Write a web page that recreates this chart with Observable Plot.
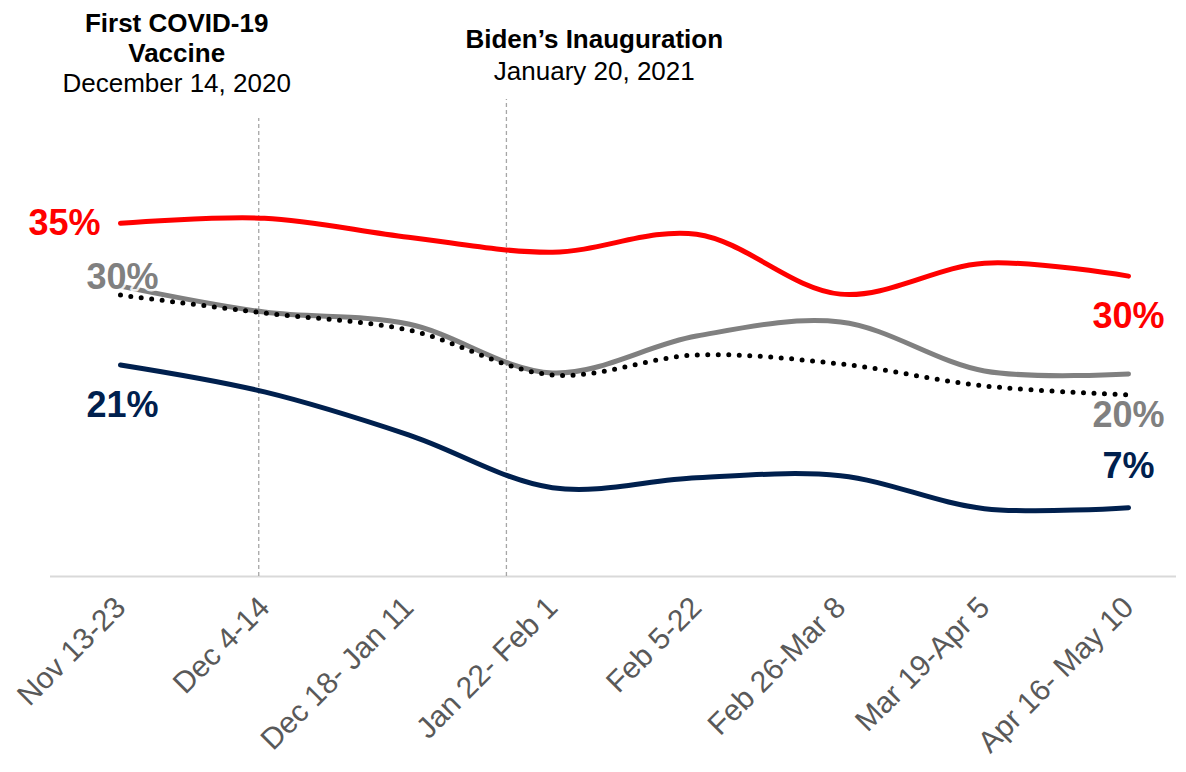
<!DOCTYPE html>
<html>
<head>
<meta charset="utf-8">
<script src="https://cdn.jsdelivr.net/npm/d3@7"></script>
<script src="https://cdn.jsdelivr.net/npm/@observablehq/plot@0.6"></script>
<style>
  html, body { margin: 0; padding: 0; background: #ffffff; }
  #chart { width: 1186px; height: 772px; }
</style>
</head>
<body>
<div id="chart"></div>
<script>
const categories = ["Nov 13-23", "Dec 4-14", "Dec 18- Jan 11", "Jan 22- Feb 1", "Feb 5-22", "Feb 26-Mar 8", "Mar 19-Apr 5", "Apr 16- May 10"];
const redValues    = [35.4, 35.9, 34.0, 32.5, 34.3, 28.3, 31.4, 30.1];
const grayValues   = [29.1, 26.5, 25.3, 20.4, 24.1, 25.5, 20.6, 20.3];
const dottedValues = [28.2, 26.4, 24.7, 20.2, 22.2, 21.3, 19.1, 18.2];
const navyValues   = [21.2, 18.5, 14.2, 8.9, 9.9, 10.1, 6.8, 6.9];

const startLabels = ["35%", "30%", "21%"];
const endLabels   = ["30%", "20%", "7%"];

const eventTitles = ["First COVID-19\nVaccine", "Biden’s Inauguration"];
const eventDates  = ["December 14, 2020", "January 20, 2021"];
const eventPos    = [0.96, 2.68];
const eventTop    = [45.9, 47.8];
const eventLabelPos = [0.39, 3.29];

const RED = "#FF0000", GRAY = "#808080", NAVY = "#00204E";
const FONT = "'Liberation Sans', Arial, sans-serif";

const toRows = (vals) => vals.map((v, i) => ({i, v}));
const red = toRows(redValues), gray = toRows(grayValues), dotted = toRows(dottedValues), navy = toRows(navyValues);
const last = categories.length - 1;

const lbl = (row, text, color, opts) => Plot.text([row], {
  x: "i", y: "v", text: () => text, fill: color, fontSize: 36, fontWeight: "bold",
  stroke: "white", strokeWidth: 5, strokeOpacity: 0.85, ...opts
});

const events = eventLabelPos.map((p, k) => ({p, t: eventTitles[k], d: eventDates[k], k}));

const chart = Plot.plot({
  width: 1186,
  height: 772,
  marginLeft: 120,
  marginRight: 58,
  marginTop: 117,
  marginBottom: 196,
  style: {fontFamily: FONT, background: "white"},
  x: {domain: [0, last]},
  y: {domain: [0, 46], axis: null},
  marks: [
    Plot.ruleY([0], {stroke: "#d9d9d9", strokeWidth: 2, insetLeft: -70, insetRight: -48}),
    Plot.ruleX(eventPos.map((p, k) => ({p, top: eventTop[k]})), {
      x: "p", y1: 0, y2: "top", stroke: "#a6a6a6", strokeWidth: 1.3, strokeDasharray: "4,3"
    }),
    Plot.axisX(d3.range(categories.length), {
      tickFormat: (i) => categories[i], tickRotate: -45, tickSize: 0, tickPadding: 26,
      fontSize: 30, fill: "#595959", label: null
    }),
    Plot.line(red, {x: "i", y: "v", stroke: RED, strokeWidth: 5, curve: "catmull-rom", strokeLinecap: "round"}),
    Plot.line(gray, {x: "i", y: "v", stroke: GRAY, strokeWidth: 5, curve: "catmull-rom", strokeLinecap: "round"}),
    Plot.line(navy, {x: "i", y: "v", stroke: NAVY, strokeWidth: 5, curve: "catmull-rom", strokeLinecap: "round"}),
    Plot.line(dotted, {x: "i", y: "v", stroke: "black", strokeWidth: 5, curve: "catmull-rom", strokeLinecap: "round", strokeDasharray: "0,10.5"}),
    lbl(red[0], startLabels[0], RED, {textAnchor: "end", dx: -20, dy: 0}),
    lbl(gray[0], startLabels[1], GRAY, {dx: 2, dy: -9}),
    lbl(navy[0], startLabels[2], NAVY, {dx: 2, dy: 41}),
    lbl(red[last], endLabels[0], RED, {dx: 0, dy: 40}),
    lbl(gray[last], endLabels[1], GRAY, {dx: 0, dy: 42}),
    lbl(navy[last], endLabels[2], NAVY, {dx: 0, dy: -41}),
    Plot.text(events, {
      x: "p", frameAnchor: "top", text: "t", fontWeight: "bold", fontSize: 26, fill: "black",
      lineAnchor: "top", lineHeight: 1.16, filter: (d) => d.k === 0, dy: -107
    }),
    Plot.text(events, {
      x: "p", frameAnchor: "top", text: "t", fontWeight: "bold", fontSize: 26, fill: "black",
      lineAnchor: "top", filter: (d) => d.k === 1, dy: -88
    }),
    Plot.text(events, {
      x: "p", frameAnchor: "top", text: "d", fontSize: 26, fill: "black",
      lineAnchor: "top", filter: (d) => d.k === 0, dy: -44
    }),
    Plot.text(events, {
      x: "p", frameAnchor: "top", text: "d", fontSize: 26, fill: "black",
      lineAnchor: "top", filter: (d) => d.k === 1, dy: -56
    })
  ]
});
document.getElementById("chart").appendChild(chart);
</script>
</body>
</html>
